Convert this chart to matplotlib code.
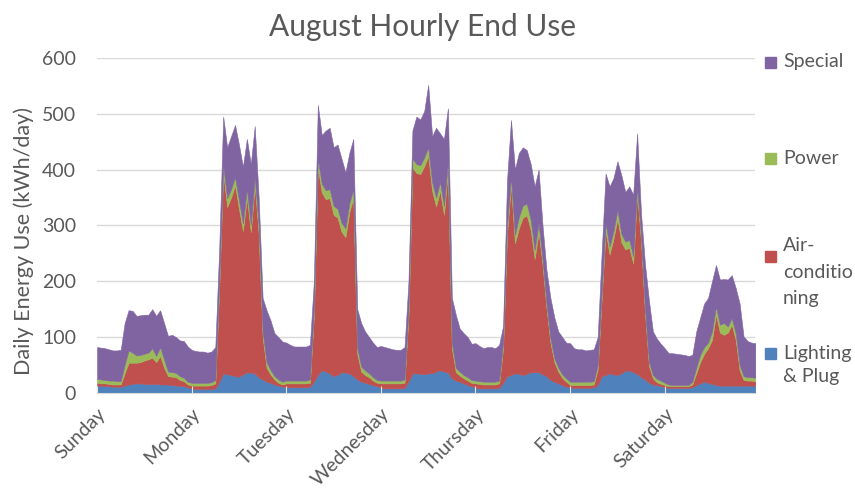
import numpy as np
import matplotlib
matplotlib.use('agg')
import matplotlib.pyplot as plt
from matplotlib.patches import Rectangle

plt.rcParams['font.family'] = ['Lato', 'DejaVu Sans']

# stacked levels (kWh/day), one row per day Sun..Sat
lighting_top = [
    13,13,12,12,11,11,11,13,15,16,17,17,16,16,16,16,15,15,15,14,13,13,12,10,
    8,7,7,7,7,7,8,20,35,33,32,30,29,33,37,36,35,28,24,20,18,15,13,11,
    11,10,10,10,10,10,11,20,32,41,38,35,30,32,37,36,35,30,24,20,18,16,14,12,
    9,8,8,8,8,8,9,20,35,35,34,34,35,35,38,41,38,37,26,22,20,17,14,12,
    9,8,8,8,8,8,9,18,30,32,35,34,32,34,37,37,37,33,30,23,20,17,14,11,
    10,9,9,9,9,9,10,14,30,32,35,33,32,35,40,40,37,34,28,24,18,15,14,12,
    10,9,9,9,9,9,9,10,14,17,20,18,16,14,13,13,13,13,13,13,13,13,13,13,
]
ac_top = [
    18,17,17,16,15,15,15,35,54,54,54,55,58,60,63,55,66,45,30,29,28,23,21,15,
    13,13,13,13,13,14,17,190,395,333,350,372,330,290,350,288,372,285,100,45,33,24,18,15,
    17,17,17,17,17,17,18,138,404,359,347,349,319,314,289,279,324,349,70,38,32,28,22,18,
    17,17,17,17,17,17,18,138,404,394,392,406,424,362,334,362,319,399,80,37,31,26,22,18,
    17,16,15,15,15,15,17,80,285,372,268,295,314,318,292,240,288,230,152,90,55,38,27,20,
    14,14,14,14,14,14,15,42,168,290,248,276,312,270,257,260,232,357,270,142,48,26,19,16,
    14,12,12,12,12,12,12,15,35,55,70,80,95,140,108,104,108,122,95,40,23,22,22,21,
]
power_top = [
    25,24,23,22,22,21,21,50,76,72,67,68,70,72,80,66,82,60,38,37,36,30,27,20,
    18,18,18,18,18,19,23,200,408,349,365,387,345,304,366,301,387,300,110,55,41,30,24,20,
    22,22,22,22,22,22,24,150,420,375,363,365,335,330,305,295,340,365,80,47,40,35,28,23,
    22,22,22,22,22,22,24,150,420,410,408,422,440,378,350,378,335,415,90,45,38,32,28,23,
    22,21,20,20,20,20,22,90,300,387,283,315,336,339,310,256,304,240,160,98,62,45,33,26,
    20,20,20,20,20,20,21,50,180,304,262,290,328,285,271,274,245,369,280,150,55,32,25,22,
    18,15,14,14,14,14,14,20,45,68,82,90,110,155,122,125,119,134,107,50,30,28,28,27,
]
special_top = [
    82,81,80,78,76,76,77,125,148,147,138,139,140,140,150,138,148,125,102,104,100,94,93,83,
    77,75,74,74,72,74,82,260,495,440,460,480,445,405,455,410,478,350,170,148,130,107,100,92,
    90,86,83,83,83,83,86,200,516,462,470,475,440,445,420,395,430,455,150,125,110,100,90,82,
    84,82,80,78,77,77,82,200,470,495,490,505,552,460,475,465,455,510,170,140,115,107,100,88,
    89,84,80,82,82,80,86,120,380,489,400,430,440,435,410,370,400,300,220,170,135,110,100,90,
    89,80,78,78,76,77,78,100,250,393,370,385,415,390,360,370,355,465,320,230,165,110,97,88,
    80,71,71,70,69,68,66,68,110,135,160,170,200,229,203,204,203,211,188,160,101,93,90,89,
]
days = ['Sunday', 'Monday', 'Tuesday', 'Wednesday', 'Thursday', 'Friday', 'Saturday']
series_names = ['Special', 'Power', 'Air-\nconditio\nning', 'Lighting\n& Plug']

blue = '#4F81BD'
red = '#C0504D'
green = '#9BBB59'
purple = '#8064A2'
grey = '#595959'

hours = np.arange(len(special_top))

fig = plt.figure(figsize=(8.55, 4.88), dpi=100)
ax = fig.add_axes([0.1135, 0.195, 0.77, 0.686])

for yv in range(100, 700, 100):
    ax.axhline(yv, color='#D9D9D9', lw=1, zorder=0)

ax.fill_between(hours, 0, lighting_top, color=blue, lw=0.4, edgecolor=blue, zorder=1)
ax.fill_between(hours, lighting_top, ac_top, color=red, lw=0.4, edgecolor=red, zorder=1)
ax.fill_between(hours, ac_top, power_top, color=green, lw=0.4, edgecolor=green, zorder=1)
ax.fill_between(hours, power_top, special_top, color=purple, lw=0.4, edgecolor=purple, zorder=1)

ax.set_xlim(0, hours[-1])
ax.set_ylim(0, 600)
ax.set_axisbelow(False)
for s in ['top', 'right', 'left']:
    ax.spines[s].set_visible(False)
ax.spines['bottom'].set_color('#D9D9D9')

ax.set_yticks(range(0, 700, 100))
ax.tick_params(axis='y', length=0, labelsize=14, labelcolor=grey, pad=15)
ax.set_xticks(hours[::24])
ax.set_xticklabels(days, rotation=45, ha='right', rotation_mode='anchor')
ax.tick_params(axis='x', direction='in', length=5, color='#E6E6E6', labelsize=14,
               labelcolor=grey, pad=9)
ax.set_ylabel('Daily Energy Use (kWh/day)', fontsize=15.5, color=grey)
ax.yaxis.set_label_coords(-0.095, 0.455)

fig.text(0.494, 0.945, 'August Hourly End Use', ha='center', va='center',
         fontsize=21.5, color=grey)

# legend on the right
leg_y = [62, 158, 256, 353]
txt_y = [62, 158, 272, 365]
spacing = [1.4, 1.4, 1.65, 1.4]
colors = [purple, green, red, blue]
for name, c, sy, ty, ls in zip(series_names, colors, leg_y, txt_y, spacing):
    fig.add_artist(Rectangle((765 / 855, 1 - (sy + 6) / 488), 11 / 855, 11 / 488,
                             transform=fig.transFigure, color=c))
    fig.text(783 / 855, 1 - ty / 488, name, ha='left', va='center', fontsize=14,
             color=grey, linespacing=ls)

fig.savefig('out.png', dpi=100)
